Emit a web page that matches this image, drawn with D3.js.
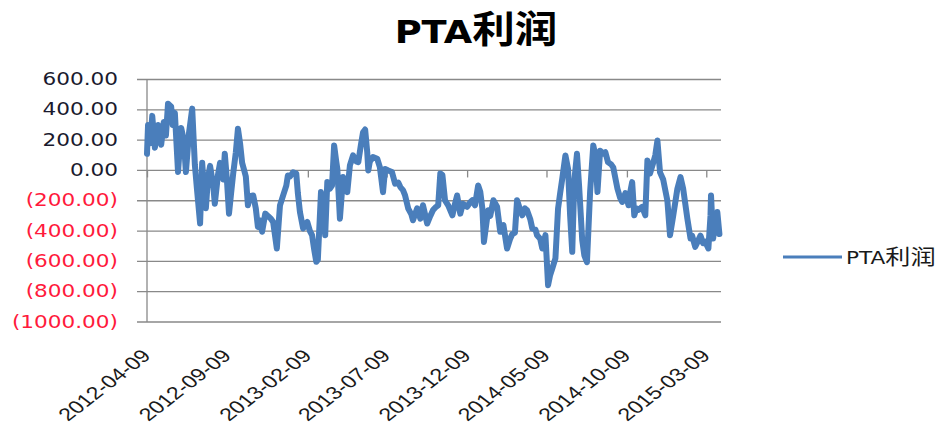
<!DOCTYPE html>
<html lang="zh">
<head>
<meta charset="UTF-8">
<title>PTA利润</title>
<script src="https://cdn.jsdelivr.net/npm/d3@7"></script>
<style>
    body { margin: 0; background: #ffffff; }
    text { font-family: "DejaVu Sans", sans-serif; }
</style>
</head>
<body>
<svg id="chart" width="951" height="434"></svg>
<script>
    // PTA profit
    let dates = [
        "2012-04-09", "2012-04-11", "2012-04-15", "2012-04-19", "2012-04-24", "2012-04-30", "2012-05-06", "2012-05-11",
        "2012-05-15", "2012-05-19", "2012-05-25", "2012-05-28", "2012-06-01", "2012-06-07", "2012-06-13", "2012-06-18",
        "2012-06-22", "2012-06-28", "2012-07-04", "2012-07-09", "2012-07-13", "2012-07-19", "2012-07-23", "2012-07-26",
        "2012-07-30", "2012-08-03", "2012-08-07", "2012-08-13", "2012-08-16", "2012-08-22", "2012-08-26", "2012-09-01",
        "2012-09-04", "2012-09-08", "2012-09-12", "2012-09-16", "2012-09-20", "2012-09-25", "2012-09-29", "2012-10-03",
        "2012-10-07", "2012-10-11", "2012-10-14", "2012-10-18", "2012-10-22", "2012-10-28", "2012-11-02", "2012-11-06",
        "2012-11-10", "2012-11-14", "2012-11-20", "2012-11-25", "2012-12-01", "2012-12-05", "2012-12-12", "2012-12-18",
        "2012-12-24", "2012-12-30", "2013-01-02", "2013-01-06", "2013-01-12", "2013-01-18", "2013-01-21", "2013-01-25",
        "2013-01-31", "2013-02-08", "2013-02-13", "2013-02-17", "2013-02-21", "2013-02-25", "2013-02-28", "2013-03-06",
        "2013-03-10", "2013-03-14", "2013-03-18", "2013-03-23", "2013-03-27", "2013-03-31", "2013-04-04", "2013-04-06",
        "2013-04-11", "2013-04-17", "2013-04-21", "2013-04-25", "2013-04-30", "2013-05-06", "2013-05-12", "2013-05-16",
        "2013-05-21", "2013-05-25", "2013-05-29", "2013-06-02", "2013-06-04", "2013-06-07", "2013-06-13", "2013-06-21",
        "2013-06-26", "2013-07-02", "2013-07-06", "2013-07-12", "2013-07-19", "2013-07-25", "2013-07-31", "2013-08-04",
        "2013-08-09", "2013-08-13", "2013-08-19", "2013-08-25", "2013-08-28", "2013-09-05", "2013-09-11", "2013-09-16",
        "2013-09-24", "2013-09-30", "2013-10-05", "2013-10-11", "2013-10-15", "2013-10-19", "2013-10-23", "2013-10-28",
        "2013-11-03", "2013-11-11", "2013-11-16", "2013-11-20", "2013-11-26", "2013-12-01", "2013-12-09", "2013-12-15",
        "2013-12-19", "2013-12-24", "2013-12-30", "2014-01-03", "2014-01-07", "2014-01-10", "2014-01-18", "2014-01-22",
        "2014-01-28", "2014-02-04", "2014-02-10", "2014-02-16", "2014-02-23", "2014-03-01", "2014-03-05", "2014-03-10",
        "2014-03-14", "2014-03-20", "2014-03-24", "2014-03-29", "2014-04-02", "2014-04-08", "2014-04-12", "2014-04-18",
        "2014-04-21", "2014-04-27", "2014-05-01", "2014-05-07", "2014-05-12", "2014-05-16", "2014-05-20", "2014-05-26",
        "2014-05-31", "2014-06-04", "2014-06-08", "2014-06-14", "2014-06-19", "2014-06-23", "2014-06-27", "2014-07-01",
        "2014-07-06", "2014-07-10", "2014-07-16", "2014-07-20", "2014-07-25", "2014-07-31", "2014-08-06", "2014-08-10",
        "2014-08-14", "2014-08-19", "2014-08-25", "2014-08-29", "2014-09-03", "2014-09-09", "2014-09-13", "2014-09-21",
        "2014-09-26", "2014-09-30", "2014-10-06", "2014-10-12", "2014-10-15", "2014-10-19", "2014-10-23", "2014-10-27",
        "2014-10-31", "2014-11-07", "2014-11-13", "2014-11-17", "2014-11-22", "2014-11-28", "2014-12-02", "2014-12-06",
        "2014-12-11", "2014-12-17", "2014-12-25", "2014-12-30", "2015-01-05", "2015-01-13", "2015-01-19", "2015-01-24",
        "2015-02-01", "2015-02-07", "2015-02-10", "2015-02-16", "2015-02-22", "2015-02-26", "2015-03-03", "2015-03-07",
        "2015-03-13", "2015-03-17", "2015-03-18", "2015-03-22", "2015-03-26", "2015-03-30", "2015-04-03"
    ]
    let profit = [
        110, 300, 180, 360, 150, 300, 170, 320,
        230, 440, 420, 300, 380, -10, 280, 200,
        -10, 250, 408, 40, -120, -350, 50, -100,
        -250, -50, 30, -100, -220, -30, 50, -60,
        110, -60, -285, -150, -20, 120, 275, 180,
        50, 0, -40, -230, -170, -165, -250, -373,
        -330, -405, -285, -300, -320, -340, -515, -230,
        -165, -100, -33, -40, -12, -20, -150, -275,
        -383, -340, -400, -427, -520, -603, -590, -143,
        -250, -427, -77, -120, -100, 165, 60, 13,
        -318, -43, -80, -143, 33, 99, 60, 55,
        170, 252, 270, 120, 0, 60, 88, 77,
        22, -143, 10, 0, -10, -87, -80, -110,
        -130, -165, -252, -290, -329, -250, -318, -230,
        -350, -300, -262, -240, -230, -20, -30, -197,
        -230, -296, -220, -165, -285, -220, -240, -210,
        -197, -230, -99, -140, -250, -472, -263, -300,
        -197, -240, -405, -360, -515, -450, -420, -410,
        -197, -260, -296, -250, -263, -320, -383, -390,
        -427, -450, -515, -427, -757, -690, -647, -580,
        -252, -150, -55, 99, 11, -300, -537, -66,
        110, -100, -460, -560, -605, -140, 165, 100,
        -143, 130, 110, 120, 55, 40, 20, -121,
        -180, -208, -150, -230, -150, -77, -296, -250,
        -260, -240, -296, 66, -20, 50, 100, 197,
        -13, -60, -200, -427, -300, -121, -44, -120,
        -318, -449, -430, -504, -460, -430, -480, -470,
        -515, -300, -165, -449, -350, -274, -420
    ]
    let yTicks = [600, 400, 200, 0, -200, -400, -600, -800, -1000]
    let xTickLabels = ["2012-04-09", "2012-09-09", "2013-02-09", "2013-07-09",
        "2013-12-09", "2014-05-09", "2014-10-09", "2015-03-09"]
    let seriesName = "PTA利润"

    let parseDate = d3.timeParse("%Y-%m-%d")
    let data = dates.map(function (d, i) {
        return {date: parseDate(d), value: profit[i]}
    })

    let plotLeft = 147, plotRight = 721, plotTop = 79.5, plotBottom = 322
    let gridColor = "#898989"
    let lineColor = "#4a7ebb"

    let svg = d3.select("#chart")

    let x = d3.scaleTime()
        .domain([parseDate("2012-04-09"), parseDate("2015-04-06")])
        .range([plotLeft, plotRight])
    let y = d3.scaleLinear()
        .domain([-1000, 600])
        .range([plotBottom, plotTop])

    // horizontal gridlines (with the outside tick mark)
    svg.append("g")
        .selectAll("line")
        .data(yTicks)
        .join("line")
        .attr("x1", plotLeft - 10)
        .attr("x2", plotRight)
        .attr("y1", d => y(d))
        .attr("y2", d => y(d))
        .attr("stroke", gridColor)
        .attr("stroke-width", 1.3)

    // y axis line
    svg.append("line")
        .attr("x1", plotLeft).attr("x2", plotLeft)
        .attr("y1", y(600)).attr("y2", y(-1000))
        .attr("stroke", gridColor)
        .attr("stroke-width", 1.3)

    // y tick labels: accounting style, negatives red in brackets
    function fmt(v) {
        let s = d3.format(".2f")(Math.abs(v))
        return v < 0 ? "(" + s + ")" : s
    }
    svg.append("g")
        .selectAll("text")
        .data(yTicks)
        .join("text")
        .attr("transform", d => "translate(118," + y(d) + ") scale(1.27,1)")
        .attr("text-anchor", "end")
        .attr("dominant-baseline", "central")
        .style("font-size", "17px")
        .attr("fill", d => d < 0 ? "#ff1a3c" : "#1a1a2e")
        .text(fmt)

    // date axis crosses at zero
    let xAxis = d3.axisBottom(x)
        .tickValues(xTickLabels.map(parseDate))
        .tickSize(7)
        .tickFormat("")
    let gx = svg.append("g")
        .attr("transform", "translate(0," + y(0) + ")")
        .call(xAxis)
    gx.select(".domain").remove()
    gx.selectAll("line").attr("stroke", gridColor).attr("stroke-width", 1.3)

    // x tick labels at the bottom, rotated
    svg.append("g")
        .selectAll("text")
        .data(xTickLabels)
        .join("text")
        .attr("transform", d => "translate(" + (x(parseDate(d)) + 5) + ",357) scale(1.29,1) rotate(-45)")
        .attr("text-anchor", "end")
        .style("font-family", "'Liberation Sans', Arial, sans-serif")
        .style("font-size", "18px")
        .attr("fill", "#1a1a1a")
        .text(d => d)

    // the series
    let line = d3.line()
        .x(d => x(d.date))
        .y(d => y(d.value))
    svg.append("path")
        .datum(data)
        .attr("d", line)
        .attr("fill", "none")
        .attr("stroke", lineColor)
        .attr("stroke-width", 6)
        .attr("stroke-linejoin", "round")
        .attr("stroke-linecap", "round")

    // title
    let title = svg.append("text")
        .attr("transform", "translate(476,43) scale(1.15,1)")
        .attr("text-anchor", "middle")
        .style("font-weight", "bold")
        .attr("fill", "#000")
    title.append("tspan").style("font-size", "32px").text("PTA")
    title.append("tspan").style("font-size", "37px")
        .style("font-family", "'Noto Sans CJK SC', sans-serif")
        .text("利润")

    // legend
    svg.append("line")
        .attr("x1", 783).attr("x2", 842)
        .attr("y1", 257).attr("y2", 257)
        .attr("stroke", lineColor)
        .attr("stroke-width", 3)
    let leg = svg.append("text")
        .attr("transform", "translate(846,264) scale(1.2,1)")
        .attr("fill", "#1a1a1a")
    leg.append("tspan").style("font-size", "18px").text("PTA")
    leg.append("tspan").style("font-size", "21px")
        .style("font-family", "'Noto Sans CJK SC', sans-serif")
        .text("利润")
</script>
</body>
</html>
